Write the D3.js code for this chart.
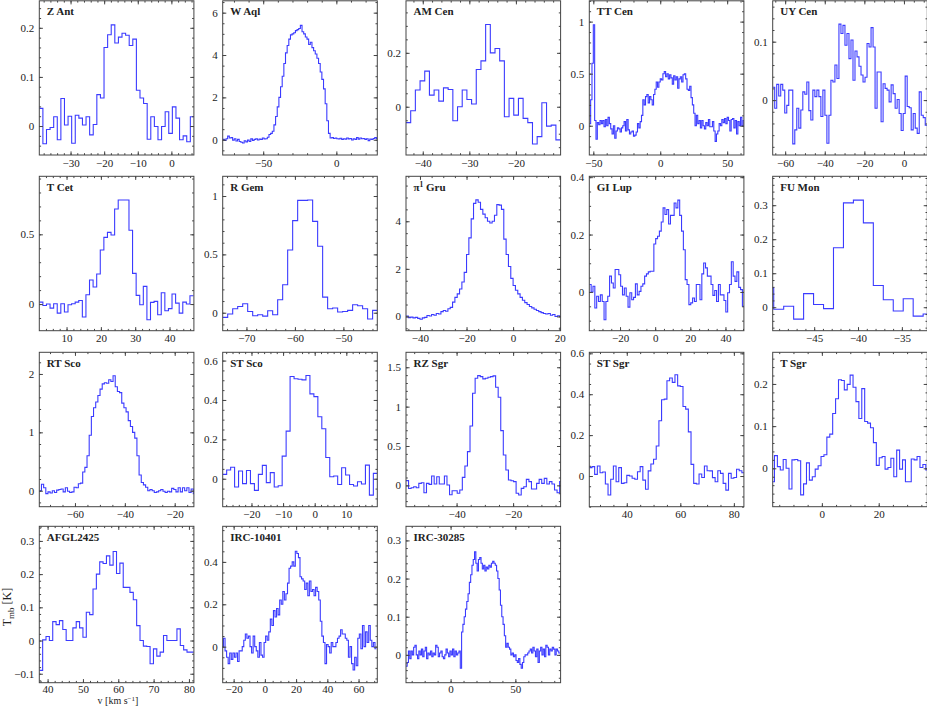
<!DOCTYPE html>
<html>
<head>
<meta charset="utf-8">
<script src="https://cdn.jsdelivr.net/npm/d3@7"></script>
<style>
  body { margin: 0; background: #fff; }
  svg { display: block; }
</style>
</head>
<body>
<svg id="chart"></svg>
<script>
// one panel per star, row by row (5 per row)
const stars = ['Z Ant', 'W Aql', 'AM Cen', 'TT Cen', 'UY Cen',
               'T Cet', 'R Gem', 'pi1 Gru', 'GI Lup', 'FU Mon',
               'RT Sco', 'ST Sco', 'RZ Sgr', 'ST Sgr', 'T Sgr',
               'AFGL2425', 'IRC-10401', 'IRC-30285']

// visible velocity range of each panel [km/s]
const xRanges = [[-39.3, 6.7], [-77.7, 28], [-43.6, -10.4], [-53, 62.5], [-66.3, 11.8],
                 [2.06, 47.1], [-74.9, -43], [-46, 20.4], [-37.5, 50.5], [-49.73, -32.1],
                 [-74.3, -12.3], [-29.1, 19.8], [-57.9, -3.2], [26, 83.75], [-17.3, 37.1],
                 [37.65, 81.4], [-27, 72], [-34.4, 84.9]]
// visible T_mb range of each panel [K]
const yRanges = [[-0.059, 0.255], [-0.72, 6.56], [-0.179, 0.393], [-0.281, 1.2], [-0.094, 0.17],
                 [-0.191, 0.916], [-0.154, 1.169], [-0.6, 5.89], [-0.135, 0.403], [-0.069, 0.385],
                 [-0.274, 2.371], [-0.142, 0.642], [-0.271, 1.69], [-0.15, 0.605], [-0.091, 0.275],
                 [-0.127, 0.344], [-0.17, 0.568], [-0.073, 0.337]]
// labelled tick spacing
const xSteps = [10, 50, 10, 50, 20, 10, 10, 20, 20, 5, 20, 10, 20, 20, 20, 10, 20, 50]
const ySteps = [0.1, 2, 0.2, 0.5, 0.1, 0.5, 0.5, 2, 0.2, 0.1, 1, 0.2, 0.5, 0.2, 0.1, 0.1, 0.2, 0.1]

// left edge of the first channel and channel width [km/s]
const chanStart = [-39.3, -77.7, -43.6, -53, -66.3, 2.06, -74.9, -46, -37.5, -50.75,
                   -74.3, -29.1, -57.9, 26, -17.7, 37.65, -27.5, -34.5]
const chanWidth = [1.07, 1.13, 1.006, 1.0, 1.014, 1.045, 1.031, 1.0, 1.05, 1.136,
                   0.87, 1.254, 0.906, 1.0, 1.024, 0.95, 1.0, 1.0]

// spectra, T_mb [K] per channel
const zAnt = [0.036, -0.036, -0.007, -0.003, 0.019, -0.028, 0.056, 0.002, 0.020, -0.035,
  0.022, 0.016, 0.002, 0.019, -0.018, 0.003, 0.064, 0.057, 0.160, 0.186,
  0.206, 0.169, 0.181, 0.189, 0.185, 0.164, 0.177, 0.073, 0.057, 0.046,
  -0.027, 0.019, -0.001, -0.028, -0.001, 0.029, -0.015, 0.039, 0.016, -0.028,
  -0.020, -0.032, 0.019]
const wAql = [0.02, -0.03, 0.05, 0.17, 0.08, 0.1, -0.02, 0.05, -0.06, 0.02,
  -0.08, -0.12, -0.15, -0.05, -0.1, -0.02, -0.08, 0.04, -0.03, 0.02,
  0.05, -0.01, 0.03, 0.02, 0.08, 0.04, 0.05, 0.12, 0.25,
  0.3, 0.4, 0.7, 1.1, 1.55, 2.0, 2.5, 3.0, 3.6, 4.1, 4.45, 4.75, 4.95, 5.0, 5.05, 5.15, 5.2, 5.25,
  5.4, 5.1, 5.0, 4.85, 4.75, 4.5, 4.6, 4.35, 4.2, 4.05, 3.85, 3.6, 3.2, 2.85, 2.4, 1.7, 0.9, 0.3, 0.08,
  0.1, 0.06, 0.08, 0.05, 0.04, 0.07, 0.02, 0.05, 0.03, 0.08, 0.04, 0.06, -0.01, 0.05,
  0.02, 0.1, 0.03, 0.08, 0.05, 0.06, 0.02, 0.05, -0.04, 0.03, 0.02, 0.06, 0.1, 0.05]
const amCen = [-0.059, -0.015, 0.062, 0.096, 0.132, 0.043, 0.062, 0.021, 0.07, 0.064,
  -0.052, 0.0, 0.062, 0.027, 0.01, 0.138, 0.17, 0.305, 0.2, 0.216,
  0.17, -0.037, 0.031, -0.031, 0.031, -0.043, -0.059, -0.138, -0.111, 0.015,
  -0.072, -0.068, -0.123]
const ttCen = [0.02, 0.25, 0.6, 0.97, 0.05, -0.13, 0.03, 0.01, 0.05, 0.02,
  0.05, -0.01, 0.06, 0.0, 0.08, 0.02, -0.03, -0.08, 0.0, -0.12,
  -0.05, -0.02, -0.03, -0.06, -0.02, 0.0, 0.04, -0.05, 0.06, -0.04,
  -0.08, -0.06, -0.05, -0.1, -0.09, -0.06, 0.02, -0.02, 0.04, 0.1,
  0.25, 0.2, 0.28, 0.3, 0.22, 0.28, 0.25, 0.2, 0.3, 0.35,
  0.42, 0.37, 0.42, 0.45, 0.44, 0.5, 0.52, 0.47, 0.5, 0.45,
  0.49, 0.46, 0.4, 0.48, 0.44, 0.47, 0.36, 0.45, 0.47, 0.42,
  0.49, 0.5, 0.45, 0.35, 0.34, 0.38, 0.27, 0.2, 0.12, 0.0,
  0.1, 0.02, 0.05, -0.02, 0.05, 0.0, -0.03, 0.03, 0.0, 0.06,
  -0.01, -0.01, 0.04, -0.05, -0.15, -0.08, -0.05, 0.02, 0.0, 0.06,
  0.03, 0.07, 0.02, 0.08, 0.05, -0.05, 0.06, 0.07, -0.02, 0.05,
  -0.08, 0.04, 0.0, 0.08, 0.0, 0.05]
const uyCen = [0.022, -0.014, 0.027, 0.007, 0.027, 0.017, -0.022, -0.009, 0.017, 0.017,
  -0.075, -0.051, -0.014, -0.048, -0.017, 0.014, 0.01, 0.031, -0.018, -0.034,
  0.017, 0.006, 0.017, 0.006, -0.028, 0.017, -0.026, -0.074, -0.026, 0.034,
  0.031, 0.06, 0.037, 0.13, 0.114, 0.128, 0.094, 0.114, 0.071, 0.103,
  0.034, 0.084, 0.074, 0.058, 0.043, 0.031, 0.039, 0.097, 0.091, 0.124,
  0.091, -0.014, 0.048, 0.048, -0.037, 0.028, 0.02, 0.017, -0.003, 0.026,
  0.011, -0.014, 0.001, -0.023, -0.052, -0.023, 0.041, -0.011, -0.013, -0.051,
  -0.023, -0.048, -0.057, 0.014, -0.026, -0.03, -0.043]
const tCet = [0.014, -0.010, 0.0, -0.029, 0.002, -0.065, 0.002, -0.057, -0.005, 0.002,
  0.014, 0.026, -0.093, 0.067, 0.172, 0.122, 0.215, 0.388, 0.478, 0.514,
  0.495, 0.682, 0.746, 0.746, 0.746, 0.529, 0.220, 0.062, -0.005, 0.127,
  -0.112, 0.012, 0.019, -0.077, 0.081, -0.048, -0.033, 0.072, 0.007, -0.065,
  0.014, 0.0, 0.060]
const rGem = [-0.04, -0.011, 0.034, 0.054, 0.077, 0.011, -0.026, -0.017, -0.029, 0.017,
  -0.017, 0.111, 0.24, 0.537, 0.789, 0.963, 0.963, 0.966, 0.783, 0.569,
  0.134, 0.034, 0.04, 0.006, 0.01, 0.02, 0.069, 0.06, 0.034, -0.054, 0.02]
const piGru = [0.02, -0.05, -0.03, -0.06, -0.04, -0.08, -0.12, -0.06, -0.04, 0.04,
  0.02, 0.08, 0.05, 0.12, 0.1, 0.2, 0.25, 0.22, 0.32, 0.38,
  0.6, 0.8, 0.95, 1.15, 1.45, 1.85, 2.6, 3.3, 4.1, 4.75,
  4.9, 4.8, 4.5, 4.3, 4.15, 4.0, 3.93, 4.0, 4.25, 4.7,
  4.68, 4.5, 3.25, 2.6, 2.1, 1.6, 1.3, 1.1, 0.95, 0.8,
  0.68, 0.58, 0.5, 0.42, 0.36, 0.3, 0.25, 0.2, 0.16, 0.12,
  0.1, 0.12, 0.05, 0.08, 0.0, 0.03, 0.0]
const giLup = [0.026, 0, 0.02, -0.056, -0.015, -0.033, -0.01, -0.033, -0.097, -0.033,
  -0.015, 0.055, 0.031, 0.014, 0.078, 0.078, 0.06, 0.02, -0.01, 0.014,
  -0.015, -0.053, -0.003, -0.027, -0.019, 0.028, -0.01, 0.002, 0.02, 0.028,
  0.055, 0.063, 0.07, 0.072, 0.072, 0.167, 0.186, 0.194, 0.212, 0.244,
  0.293, 0.27, 0.287, 0.237, 0.267, 0.267, 0.31, 0.293, 0.32, 0.267,
  0.212, 0.147, 0.043, 0.026, -0.044, -0.038, -0.021, -0.033, 0.026, 0.026,
  -0.027, 0.063, 0.101, 0.084, 0.055, 0.055, 0.026, -0.012, 0.005, -0.033,
  0.026, -0.01, -0.01, -0.03, -0.07, -0.003, 0.026, 0.105, 0.055, 0.037,
  0.07, 0.016, 0.008, -0.05]
const fuMon = [0.057, -0.006, 0.003, -0.035, 0.04, 0.008, -0.004, 0.175, 0.307, 0.315,
  0.248, 0.064, 0.022, -0.011, 0.025, -0.026, -0.02]
const rtSco = [0.0, 0.11, 0.05, -0.05, -0.02, -0.04, 0.0, -0.03, 0.01, 0.02,
  0.03, -0.02, 0.05, -0.01, -0.03, -0.02, 0.06, 0.05, 0.12, 0.13,
  0.32, 0.4, 0.6, 0.95, 1.27, 1.42, 1.52, 1.63, 1.74, 1.83,
  1.85, 1.84, 1.9, 1.87, 1.97, 1.78, 1.7, 1.68, 1.5, 1.42,
  1.35, 1.2, 1.1, 1.0, 0.9, 0.6, 0.27, 0.14, 0.1, 0.06,
  0.0, 0.02, 0.0, -0.03, -0.02, 0.0, 0.02, -0.01, -0.03, -0.01,
  -0.02, 0.04, 0.02, -0.02, 0.05, -0.02, 0.05, 0.0, 0.05, -0.03,
  0.03, -0.05]
const stSco = [0.022, 0.044, 0.058, -0.042, 0.039, -0.025, 0.042, -0.025, -0.059, 0.022,
  0.068, -0.02, 0.031, -0.042, -0.036, 0.115, 0.242, 0.519, 0.508, 0.505,
  0.502, 0.524, 0.431, 0.417, 0.315, 0.254, 0.108, 0.01, 0.014, -0.029,
  0.056, 0.019, -0.029, -0.037, -0.015, -0.027, 0.069, -0.083, 0.027]
const rzSgr = [0.06, -0.04, -0.03, -0.017, -0.03, 0.025, 0.034, -0.093, 0.025, 0.013,
  0.119, 0.017, 0.11, 0.017, 0.017, 0.119, 0.004, -0.119, -0.068, -0.068,
  -0.1, -0.059, 0.102, 0.246, 0.428, 0.754, 1.169, 1.36, 1.394, 1.381,
  1.352, 1.36, 1.373, 1.381, 1.39, 1.246, 1.119, 0.695, 0.386, 0.195,
  0.068, 0.059, 0.047, -0.1, -0.123, -0.038, -0.017, 0.076, 0.047, -0.047,
  -0.047, 0.025, 0.076, 0.025, 0.089, 0.017, 0.047, 0.017, -0.059, -0.093, 0.047]
const stSgr = [0.041, 0.046, 0.008, 0.049, 0.016, 0.02, -0.039, -0.093, -0.016, 0.049,
  -0.028, 0.041, -0.036, -0.033, 0.003, 0.0, -0.011, -0.016, 0.021, 0.046,
  -0.02, -0.065, 0.025, 0.059, 0.082, 0.147, 0.27, 0.373, 0.376, 0.466,
  0.479, 0.458, 0.495, 0.441, 0.438, 0.34, 0.327, 0.216, 0.057, -0.036,
  -0.039, 0.01, -0.007, 0.049, 0.026, 0.025, -0.008, -0.028, 0.026, 0.013,
  -0.036, -0.069, 0.013, -0.011, -0.007, 0.033, 0.026, 0.016]
const tSgr = [-0.032, 0.03, 0.004, -0.004, 0.021, 0.0, -0.049, 0.02, 0.021, 0.018,
  -0.063, -0.037, 0.013, -0.028, -0.02, -0.002, 0.006, 0.028, 0.032, 0.074,
  0.081, 0.13, 0.165, 0.21, 0.208, 0.186, 0.199, 0.221, 0.192, 0.158,
  0.118, 0.189, 0.111, 0.107, 0.096, 0.061, 0.007, 0.025, 0.028, -0.002,
  0.002, 0.024, -0.02, 0.043, -0.002, 0.02, -0.032, -0.032, 0.022, 0.02,
  0.028, 0.002, 0.009, -0.004]
const afgl2425 = [-0.09, 0.002, 0.012, 0.0, 0.057, 0.048, 0.06, 0.033, 0.0, 0.0,
  0.038, 0.057, 0.038, 0.01, 0.085, 0.078, 0.155, 0.2, 0.237, 0.232,
  0.255, 0.227, 0.268, 0.202, 0.233, 0.16, 0.16, 0.145, 0.123, 0.045,
  0.0, -0.017, -0.018, -0.07, -0.025, -0.047, -0.035, 0.015, 0.0, 0.0,
  0.0, 0.035, -0.015, -0.028, -0.035, -0.035]
const irc10401 = [0.0, 0.04, -0.02, -0.05, -0.08, -0.03, -0.06, -0.03, -0.05, -0.03,
  -0.07, -0.02, -0.02, 0.0, 0.03, 0.06, 0.04, 0.05, 0.0, -0.03,
  0.05, 0.0, -0.02, -0.05, 0.02, -0.04, -0.05, 0.02, 0.05, 0.03,
  0.07, 0.13, 0.1, 0.17, 0.14, 0.18, 0.15, 0.22, 0.2, 0.26,
  0.22, 0.25, 0.3, 0.37, 0.38, 0.4, 0.38, 0.45, 0.44, 0.42,
  0.33, 0.32, 0.31, 0.27, 0.3, 0.24, 0.31, 0.26, 0.27, 0.24,
  0.28, 0.26, 0.22, 0.12, 0.05, 0.02, -0.08, 0.01, 0.0, -0.03,
  0.02, 0.0, 0.0, 0.02, 0.04, 0.05, 0.08, 0.06, 0.06, 0.04,
  0.03, -0.05, 0.0, -0.08, -0.11, -0.05, -0.09, 0.04, 0.06, -0.01,
  0.1, 0.0, 0.07, 0.02, 0.1, 0.03, 0.0, 0.02, -0.01]
const irc30285 = [-0.03, -0.02, 0.01, -0.01, 0.01, 0.0, 0.02, 0.025, 0.0, -0.01,
  0.01, 0.0, 0.015, -0.005, 0.01, 0.02, -0.01, 0.005, 0.0, 0.01,
  -0.005, 0.005, 0.0, 0.025, 0.02, -0.005, 0.005, 0.01, -0.005, -0.01,
  0.0, 0.015, 0.005, -0.005, 0.01, 0.0, 0.015, -0.005, 0.01, 0.0,
  0.005, 0.01, -0.035, 0.06, 0.08, 0.1, 0.12, 0.14, 0.16, 0.19,
  0.21, 0.235, 0.25, 0.27, 0.24, 0.22, 0.25, 0.255, 0.24, 0.225,
  0.235, 0.22, 0.23, 0.225, 0.235, 0.23, 0.24, 0.245, 0.24, 0.235,
  0.22, 0.2, 0.17, 0.13, 0.1, 0.08, 0.05, 0.02, 0.03, 0.02,
  0.015, 0.0, 0.005, -0.005, 0.0, -0.015, -0.02, -0.01, -0.025, -0.035,
  -0.02, -0.005, 0.0, 0.0, 0.005, 0.01, 0.015, 0.005, 0.02, 0.01,
  -0.005, 0.015, -0.02, 0.01, 0.02, 0.0, 0.015, -0.005, 0.025, 0.02,
  0.0, 0.015, 0.01, 0.02, 0.015, 0.0, 0.015, 0.01, 0.005]

const spectra = [zAnt, wAql, amCen, ttCen, uyCen, tCet, rGem, piGru, giLup, fuMon,
                 rtSco, stSco, rzSgr, stSgr, tSgr, afgl2425, irc10401, irc30285]

// page layout
const width = 927
const height = 706
const colLeft = [39.3, 222.7, 406, 589.3, 772.7]
const rowTop = [0.8, 176.3, 352.3, 526.3]
const rowHeight = [154.2, 154.4, 154.4, 156.4]
const panelWidth = 154.6
const lineColor = '#3b3bff'
const frameColor = '#444'
const font = '"Liberation Serif", "DejaVu Serif", serif'

const svg = d3.select('#chart')
    .attr('width', width)
    .attr('height', height)

// tick values that fall inside a domain for a given step
function tickVals(dom, step) {
    let lo = Math.ceil(dom[0] / step - 1e-9)
    let hi = Math.floor(dom[1] / step + 1e-9)
    return d3.range(lo, hi + 1).map(k => +(k * step).toFixed(6))
}

// PGPLOT style: 2 -> 4 subdivisions, 1 and 5 -> 5
function minorStep(step) {
    let mant = Math.round(step / Math.pow(10, Math.floor(Math.log10(step))))
    return mant === 2 ? step / 4 : step / 5
}

stars.forEach((name, i) => {
    let col = i % 5
    let row = Math.floor(i / 5)
    let w = panelWidth
    let h = rowHeight[row]

    let g = svg.append('g')
        .attr('transform', 'translate(' + colLeft[col] + ',' + rowTop[row] + ')')

    let xScale = d3.scaleLinear().domain(xRanges[i]).range([0, w])
    let yScale = d3.scaleLinear().domain(yRanges[i]).range([h, 0])

    // clip the spectrum to the frame
    g.append('clipPath')
        .attr('id', 'clip' + i)
        .append('rect')
        .attr('width', w)
        .attr('height', h)

    // step line: one flat segment per channel
    let vals = spectra[i]
    let pts = vals.map((t, k) => [chanStart[i] + k * chanWidth[i], t])
    pts.push([chanStart[i] + vals.length * chanWidth[i], vals[vals.length - 1]])

    let line = d3.line()
        .x(d => xScale(d[0]))
        .y(d => yScale(d[1]))
        .curve(d3.curveStepAfter)

    g.append('path')
        .datum(pts)
        .attr('clip-path', 'url(#clip' + i + ')')
        .attr('fill', 'none')
        .attr('stroke', lineColor)
        .attr('stroke-width', 1.1)
        .attr('d', line)

    // ticks on all four sides, pointing inwards
    let xMajor = tickVals(xRanges[i], xSteps[i])
    let yMajor = tickVals(yRanges[i], ySteps[i])
    let xMinor = tickVals(xRanges[i], minorStep(xSteps[i]))
    let yMinor = tickVals(yRanges[i], minorStep(ySteps[i]))

    // bottom row sits tight against the page edge, so its labels ride a bit higher
    let bottomPad = row === 3 ? 2.5 : 4
    let axes = [
        [d3.axisBottom(xScale), 'translate(0,' + h + ')', xMajor, xMinor, true, bottomPad],
        [d3.axisTop(xScale), 'translate(0,0)', xMajor, xMinor, false, 4],
        [d3.axisLeft(yScale), 'translate(0,0)', yMajor, yMinor, true, 5],
        [d3.axisRight(yScale), 'translate(' + w + ',0)', yMajor, yMinor, false, 4]
    ]
    axes.forEach(([ax, tr, major, minor, labelled, pad]) => {
        let gMinor = g.append('g')
            .attr('transform', tr)
            .call(ax.tickValues(minor).tickSizeInner(-1.8).tickSizeOuter(0).tickFormat(''))
        gMinor.select('.domain').remove()
        gMinor.attr('color', frameColor)

        let gMajor = g.append('g')
            .attr('transform', tr)
            .call(ax.tickValues(major).tickSizeInner(-3.6).tickSizeOuter(0)
                .tickPadding(pad)
                .tickFormat(labelled ? d3.format('~g') : ''))
        gMajor.select('.domain').remove()
        gMajor.attr('color', frameColor)
            .attr('font-family', font)
            .attr('font-size', 11)
        gMajor.selectAll('text').attr('fill', '#222')
    })

    // frame
    g.append('rect')
        .attr('width', w)
        .attr('height', h)
        .attr('fill', 'none')
        .attr('stroke', frameColor)
        .attr('stroke-width', 1)

    // star name
    let title = g.append('text')
        .attr('x', 7.5)
        .attr('y', 14.5)
        .attr('font-family', font)
        .attr('font-size', 11)
        .attr('font-weight', 'bold')
        .attr('fill', '#222')
    if (name === 'pi1 Gru') {
        title.append('tspan').text('π')
        title.append('tspan').attr('dy', -4).attr('font-size', 7.5).text('1')
        title.append('tspan').attr('dy', 4).text(' Gru')
    } else {
        title.text(name)
    }
})

// axis titles (shared, lower-left panel)
let yTitle = svg.append('text')
    .attr('transform', 'translate(11,607) rotate(-90)')
    .attr('text-anchor', 'middle')
    .attr('font-family', font)
    .attr('font-size', 12)
    .attr('fill', '#222')
yTitle.append('tspan').text('T')
yTitle.append('tspan').attr('dy', 3).attr('font-size', 9).text('mb')
yTitle.append('tspan').attr('dy', -3).text(' [K]')

let xTitle = svg.append('text')
    .attr('x', 118)
    .attr('y', 704.3)
    .attr('text-anchor', 'middle')
    .attr('font-family', font)
    .attr('font-size', 10)
    .attr('fill', '#222')
xTitle.append('tspan').text('v [km s')
xTitle.append('tspan').attr('dy', -3).attr('font-size', 7).text('−1')
xTitle.append('tspan').attr('dy', 3).text(']')
</script>
</body>
</html>
